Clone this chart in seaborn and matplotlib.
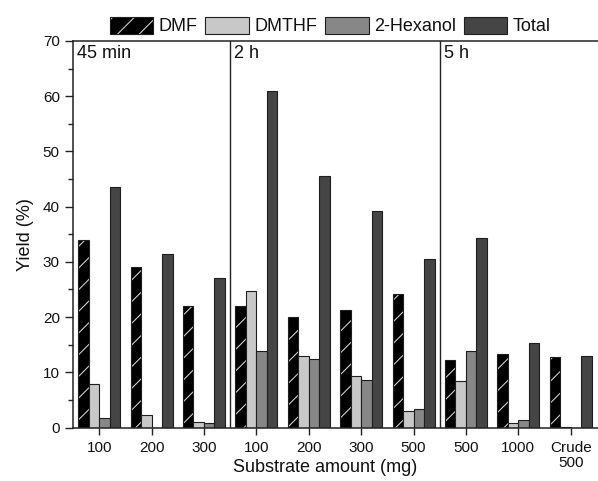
import matplotlib
matplotlib.use("Agg")
import matplotlib.pyplot as plt
import matplotlib.patches as mpatches
from matplotlib.ticker import MultipleLocator
import numpy as np
import pandas as pd
import seaborn as sns

# data
samples = ["100", "200", "300", "100", "200", "300", "500", "500", "1000", "Crude\n500"]
sample_keys = [f"s{i}" for i in range(len(samples))]
compounds = ["DMF", "DMTHF", "2-Hexanol", "Total"]
dmf = [34.0, 29.1, 22.1, 22.1, 20.1, 21.2, 24.1, 12.2, 13.3, 12.8]
dmthf = [7.9, 2.2, 1.0, 24.8, 13.0, 9.3, 3.0, 8.4, 0.85, 0.2]
hexanol = [1.8, 0.0, 0.8, 13.9, 12.5, 8.7, 3.4, 13.9, 1.4, 0.0]
total = [43.6, 31.4, 27.0, 60.9, 45.6, 39.2, 30.5, 34.4, 15.4, 13.0]
time_labels = ["45 min", "2 h", "5 h"]
time_starts = [-0.5, 2.5, 6.5]

colors = ["#000000", "#c8c8c8", "#878787", "#454545"]

rows = []
for name, vals in zip(compounds, [dmf, dmthf, hexanol, total]):
    for k, v in zip(sample_keys, vals):
        rows.append({"sample": k, "compound": name, "yield": v})
df = pd.DataFrame(rows)

# render at 130 dpi so the hatch tile is denser; scale point sizes back down
DPI = 130
K = 100 / DPI

sns.set_style("ticks")
plt.rcParams["font.family"] = ["Liberation Sans", "DejaVu Sans"]
plt.rcParams["hatch.linewidth"] = 0.75 * K
plt.rcParams["text.color"] = "#111"
plt.rcParams["xtick.color"] = "#111"
plt.rcParams["ytick.color"] = "#111"
plt.rcParams["axes.labelcolor"] = "#111"

fig = plt.figure(figsize=(598 / DPI, 481 / DPI), dpi=DPI)
ax = fig.add_axes([0.122, 0.111, 0.878, 0.804])

sns.barplot(data=df, x="sample", y="yield", hue="compound", order=sample_keys,
            hue_order=compounds, palette=colors, width=0.8, saturation=1,
            edgecolor="#1e1e1e", linewidth=0.8 * K, ax=ax, legend=False)


def white_hatch(p):
    p.set_hatch("//")
    if hasattr(p, "set_hatchcolor"):
        p.set_hatchcolor("#d8d8d8")
    else:
        p._hatch_color = (0.85, 0.85, 0.85, 1)


for bar in ax.containers[0]:
    white_hatch(bar)

ax.set_xlim(-0.5, 9.52)
ax.set_ylim(0, 70)
ax.set_xticks(range(len(samples)))
ax.set_xticklabels(samples, fontsize=11 * K, linespacing=1.05)
ax.yaxis.set_major_locator(MultipleLocator(10))
ax.yaxis.set_minor_locator(MultipleLocator(5))
ax.tick_params(axis="y", which="major", length=6 * K, width=K, labelsize=11 * K,
               color="#222", pad=3.5 * K)
ax.tick_params(axis="y", which="minor", length=3.5 * K, width=K, color="#222")
ax.tick_params(axis="x", length=5 * K, width=K, labelsize=11 * K, color="#222", pad=5 * K)
ax.set_xlabel("Substrate amount (mg)", fontsize=13 * K)
ax.xaxis.set_label_coords(0.48, -0.08)
ax.set_ylabel("Yield (%)", fontsize=13 * K, labelpad=6 * K)

for side in ["left", "bottom", "top"]:
    ax.spines[side].set_linewidth(1.1 * K)
    ax.spines[side].set_color("#222")
ax.spines["right"].set_visible(False)

for xs, lab in zip(time_starts, time_labels):
    if xs > -0.5:
        ax.axvline(xs, color="#222", lw=K)
    ax.text(xs + 0.08, 69.3, lab, fontsize=13 * K, va="top", ha="left")

handles = []
for name, c in zip(compounds, colors):
    h = mpatches.Patch(facecolor=c, edgecolor="#1e1e1e", linewidth=0.8 * K, label=name)
    if name == "DMF":
        white_hatch(h)
    handles.append(h)
ax.legend(handles=handles, loc="lower center", bbox_to_anchor=(0.49, 1.005), ncol=4,
          frameon=False, fontsize=13 * K, handlelength=2.4, handleheight=1.1,
          handletextpad=0.3, columnspacing=0.45, borderaxespad=0.1, borderpad=0.1)

fig.savefig("out.png", dpi=DPI)
